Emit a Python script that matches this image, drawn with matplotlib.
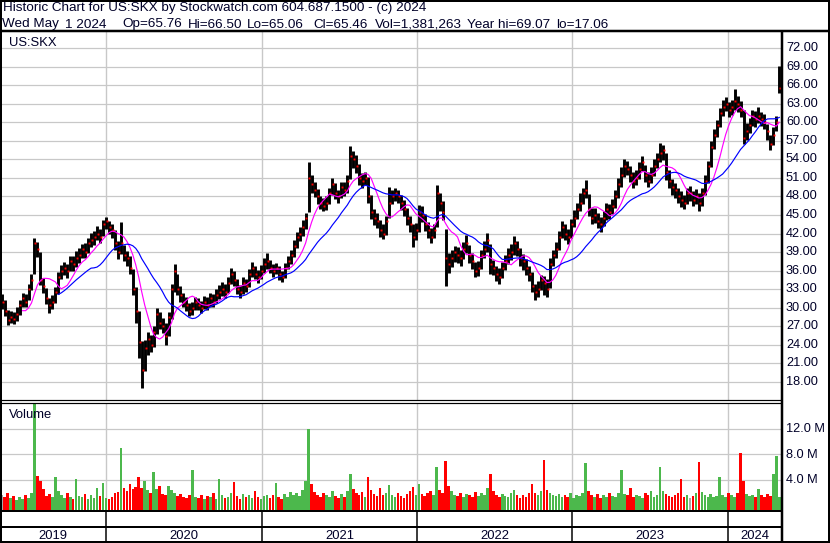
import pandas as pd
import matplotlib.pyplot as plt
import matplotlib.dates as mdates
from matplotlib.lines import Line2D

plt.rcParams['font.family'] = ['Liberation Sans', 'DejaVu Sans']

OUTPUT_FILE = "out.png"

# weekly bars, first bar 2019-05-01, last bar 2024-05-01
FIRST_WEEK = "2019-05-01"
LAST_WEEK = "2024-05-01"

close = [
    31.0, 29.5, 28.0, 28.5, 28.2, 29.0, 30.5, 31.5, 31.0, 33.0,
    34.5, 40.5, 39.5, 34.5, 33.5, 31.5, 30.5, 31.0, 32.5, 35.0,
    36.0, 36.5, 36.0, 37.5, 37.0, 38.0, 38.5, 39.5, 39.0, 40.5,
    41.0, 41.5, 42.0, 41.5, 43.5, 44.0, 43.0, 42.5, 40.5, 39.0,
    40.5, 38.5, 38.0, 36.5, 33.0, 29.5, 24.5, 20.0, 23.5, 25.0,
    24.0, 26.0, 29.0, 27.5, 27.0, 25.5, 28.5, 33.0, 36.0, 33.0,
    32.0, 31.0, 30.5, 29.5, 30.0, 31.0, 30.5, 30.0, 31.0, 30.5,
    31.5, 31.0, 32.0, 32.5, 33.0, 32.5, 34.0, 35.5, 34.5, 33.0,
    32.5, 34.0, 33.5, 35.5, 36.5, 35.5, 35.0, 36.0, 37.0, 37.5,
    36.5, 36.0, 36.5, 35.5, 35.0, 36.5, 37.5, 38.5, 40.0, 41.5,
    42.0, 43.0, 44.5, 51.0, 50.0, 49.0, 48.0, 47.0, 46.5, 47.0,
    48.5, 50.0, 48.5, 48.0, 49.5, 49.0, 50.5, 54.5, 54.0, 53.0,
    51.0, 50.5, 51.0, 48.0, 45.5, 44.5, 44.0, 42.5, 42.0, 44.0,
    47.0, 48.0, 48.5, 48.0, 47.0, 46.0, 44.5, 43.5, 41.5, 42.5,
    45.5, 45.0, 43.5, 42.5, 41.5, 42.5, 48.5, 47.0, 45.5, 38.0,
    37.0, 38.0, 39.0, 38.5, 38.0, 39.5, 40.5, 38.5, 37.5, 36.0,
    36.5, 38.5, 39.5, 41.0, 37.0, 36.5, 35.5, 35.0, 36.5, 37.5,
    38.5, 39.0, 40.5, 39.5, 38.0, 37.5, 36.5, 35.5, 33.5, 32.5,
    33.0, 34.5, 34.0, 33.0, 37.0, 38.5, 39.5, 41.5, 43.0, 42.0,
    41.5, 43.5, 44.5, 46.0, 47.0, 48.5, 49.0, 46.0, 44.5, 45.0,
    44.0, 43.5, 44.5, 46.0, 45.5, 46.5, 48.0, 50.0, 51.5, 53.0,
    52.5, 51.5, 50.5, 51.0, 52.5, 53.5, 51.5, 50.5, 51.5, 53.0,
    54.0, 55.0, 55.5, 52.0, 50.5, 49.5, 49.0, 48.0, 47.5, 47.0,
    48.5, 48.5, 47.5, 48.0, 47.0, 48.5, 50.5, 53.0, 56.0, 58.0,
    59.5, 61.5, 62.5, 63.0, 62.0, 62.5, 63.5, 63.0, 62.0, 57.5,
    58.5, 59.5, 61.0, 60.5, 61.0, 60.5, 60.0, 58.5, 56.5, 58.0,
    60.0, 65.46,
]

low = [
    29.8, 28.6, 27.2, 27.6, 27.4, 27.9, 28.8, 30.2, 30.1, 31.2,
    32.9, 35.5, 38.2, 33.6, 32.4, 30.6, 29.2, 29.8, 30.8, 32.2,
    34.6, 35.3, 34.8, 35.9, 36.0, 36.6, 37.3, 38.0, 38.1, 38.8,
    39.9, 40.2, 40.9, 40.5, 41.6, 42.8, 41.9, 41.2, 39.4, 37.9,
    38.7, 37.6, 36.8, 35.4, 32.0, 27.6, 21.8, 17.06, 19.8, 22.4,
    22.9, 23.6, 25.7, 26.6, 25.9, 23.9, 25.4, 28.2, 32.6, 32.1,
    31.0, 30.2, 29.4, 28.7, 28.8, 29.6, 29.7, 29.1, 29.8, 29.6,
    30.2, 30.1, 30.7, 31.4, 31.9, 31.6, 32.4, 33.8, 33.5, 32.2,
    31.5, 32.3, 32.6, 33.4, 35.0, 34.6, 34.0, 34.7, 35.6, 36.3,
    35.6, 35.0, 35.4, 34.5, 34.1, 34.8, 36.2, 37.1, 38.2, 39.6,
    40.8, 41.6, 42.7, 45.5, 48.6, 47.9, 46.8, 45.9, 45.6, 45.8,
    46.7, 48.2, 47.6, 46.9, 47.8, 48.0, 48.6, 50.8, 52.6, 51.8,
    49.9, 49.3, 49.8, 46.9, 44.3, 43.4, 42.9, 41.4, 41.1, 41.8,
    44.5, 46.8, 47.2, 46.9, 45.8, 44.9, 43.4, 42.2, 39.8, 41.0,
    42.3, 43.8, 42.4, 41.3, 40.4, 41.2, 43.1, 45.7, 44.2, 33.5,
    35.6, 36.6, 37.4, 37.3, 36.8, 37.9, 38.9, 37.2, 36.2, 34.9,
    35.2, 36.3, 38.1, 39.0, 35.4, 35.3, 34.3, 33.9, 34.8, 36.1,
    37.0, 37.8, 38.6, 38.3, 36.8, 36.1, 35.3, 34.3, 32.6, 31.2,
    31.8, 32.8, 32.1, 31.7, 33.2, 36.7, 38.1, 39.3, 41.2, 40.9,
    40.3, 41.2, 43.1, 44.3, 45.6, 46.8, 47.7, 44.8, 43.5, 43.7,
    42.9, 42.3, 43.2, 44.2, 44.4, 45.1, 46.2, 47.8, 49.6, 51.2,
    51.4, 50.3, 49.4, 49.9, 50.8, 52.1, 50.4, 49.5, 50.2, 51.3,
    52.6, 53.5, 53.9, 50.7, 49.3, 48.2, 47.8, 46.9, 46.3, 45.9,
    46.8, 47.3, 46.4, 46.7, 45.7, 46.4, 48.3, 50.2, 52.8, 55.7,
    57.6, 59.2, 61.0, 61.8, 60.9, 61.2, 62.0, 61.7, 60.8, 56.4,
    57.1, 58.2, 59.4, 59.3, 59.8, 59.4, 58.9, 57.2, 55.5, 56.3,
    58.5, 64.8,
]

high = [
    32.2, 31.2, 29.6, 29.4, 29.3, 30.1, 31.2, 32.4, 32.3, 33.8,
    35.5, 41.3, 40.6, 39.0, 34.8, 33.2, 31.6, 32.0, 33.3, 35.8,
    36.9, 37.4, 37.0, 38.3, 38.4, 39.1, 39.6, 40.3, 40.4, 41.3,
    42.1, 42.4, 43.2, 42.7, 44.2, 44.6, 44.1, 43.6, 42.6, 40.8,
    43.8, 40.2, 39.1, 38.3, 36.2, 33.4, 29.4, 24.6, 24.8, 26.1,
    25.6, 27.0, 29.9, 29.3, 28.3, 27.6, 29.3, 33.8, 37.0, 35.4,
    33.5, 32.4, 31.7, 30.8, 30.9, 31.8, 31.6, 31.1, 31.9, 31.7,
    32.4, 32.3, 33.1, 33.6, 34.2, 33.8, 35.0, 36.4, 35.9, 34.6,
    33.7, 34.9, 34.7, 36.3, 37.4, 36.8, 36.1, 36.9, 38.0, 38.8,
    37.8, 37.1, 37.3, 36.7, 36.0, 37.3, 38.4, 39.4, 40.9, 42.3,
    43.1, 44.2, 45.3, 53.6, 51.4, 50.3, 49.2, 48.1, 47.7, 48.1,
    49.3, 50.9, 50.2, 49.1, 50.4, 50.3, 51.4, 56.2, 55.4, 54.7,
    53.2, 51.8, 52.0, 51.1, 48.2, 46.0, 45.3, 44.2, 43.5, 44.9,
    49.5, 49.1, 49.4, 49.0, 48.3, 47.4, 46.1, 44.8, 43.6, 43.7,
    46.6, 46.5, 45.1, 43.8, 42.9, 43.6, 49.9, 48.6, 47.3, 42.8,
    38.9, 39.3, 40.0, 39.8, 39.4, 40.6, 41.8, 40.1, 38.8, 37.4,
    37.6, 39.3, 40.8, 42.1, 40.3, 37.8, 36.8, 36.4, 37.4, 38.5,
    39.6, 40.3, 41.6, 40.8, 39.6, 38.7, 37.9, 36.8, 35.7, 33.9,
    34.3, 35.3, 35.2, 34.6, 38.1, 39.4, 40.6, 42.4, 44.1, 43.5,
    42.7, 44.4, 45.8, 47.0, 48.5, 49.4, 50.6, 48.4, 46.2, 46.1,
    45.4, 44.7, 45.6, 46.9, 46.8, 47.6, 49.1, 50.9, 52.8, 54.1,
    53.8, 52.9, 51.9, 52.3, 53.6, 54.5, 53.1, 51.9, 52.7, 54.0,
    55.1, 56.6, 56.3, 55.0, 52.2, 50.8, 50.2, 49.4, 48.8, 48.3,
    49.4, 49.7, 48.9, 49.2, 48.6, 49.3, 51.4, 53.8, 56.9, 58.9,
    60.4, 62.3, 63.6, 64.1, 63.3, 63.6, 65.3, 64.2, 63.4, 61.9,
    59.8, 60.7, 61.9, 61.8, 62.5, 61.6, 61.4, 59.7, 57.9, 59.2,
    61.0, 69.07,
]

# volume in millions
volume = [
    1.6, 1.3, 1.9, 1.2, 1.5, 0.9, 1.4, 1.1, 1.7, 1.2,
    2.0, 15.9, 4.7, 3.9, 2.6, 1.5, 1.8, 1.3, 4.4, 2.2,
    1.6, 1.2, 1.9, 1.4, 1.1, 4.2, 1.5, 1.3, 1.8, 1.1,
    1.6, 1.2, 2.8, 1.5, 3.5, 1.2, 1.0, 1.4, 1.9, 2.1,
    9.0, 2.7, 2.2, 3.4, 2.6, 2.9, 4.5, 2.8, 3.8, 2.4,
    2.0, 5.2, 2.6, 3.1, 1.8, 1.6, 3.0, 2.4, 1.9, 1.5,
    1.8, 1.3, 1.2, 1.6, 5.5, 1.4, 1.2, 1.7, 1.0, 1.5,
    1.3, 1.9, 1.1, 4.2, 1.6, 1.2, 1.4, 2.0, 3.7, 1.5,
    1.1, 1.8, 1.3, 1.6, 1.2, 2.2, 1.4, 1.0, 1.5, 1.7,
    1.2, 1.6, 3.5, 1.3, 1.1, 1.8, 1.4, 2.1, 1.6, 1.9,
    1.5, 2.4, 3.8, 12.0, 3.3, 2.1, 1.7, 1.4, 2.0, 1.6,
    1.3, 2.3, 1.5, 1.2, 1.8, 1.4, 2.2, 5.0, 2.6, 1.9,
    1.6, 2.1, 1.4, 4.5, 2.5, 1.8, 1.5, 2.7, 1.6, 2.0,
    3.2, 1.7, 1.4, 1.9, 1.5, 1.2, 1.8, 2.2, 2.9, 1.6,
    3.4, 1.8, 1.5, 1.9, 2.3, 1.6, 6.0, 2.4, 2.0, 7.0,
    3.1, 2.2, 1.7, 1.5, 2.0, 1.4, 1.8, 1.6, 1.3, 2.1,
    1.5, 1.9, 1.6, 2.8, 5.0, 2.2, 1.7, 1.4, 1.8, 1.5,
    1.3, 1.9, 2.4, 1.6, 1.2, 1.7, 1.4, 2.0, 3.4, 1.9,
    1.6, 2.2, 7.2, 2.5, 2.0, 1.7, 1.5, 1.8, 1.3, 1.6,
    1.4, 1.9, 1.2, 1.7, 1.5, 2.0, 6.6, 2.3, 1.7, 1.4,
    1.8, 1.2, 1.6, 1.3, 1.9, 1.5, 1.4, 2.0, 5.5, 1.8,
    1.6, 2.7, 1.3, 1.7, 1.5, 1.2, 1.9, 1.6, 2.2, 1.4,
    1.7, 6.1, 2.3, 1.8, 1.5, 1.3, 1.6, 1.9, 4.2, 1.4,
    1.7, 1.2, 1.5, 2.0, 6.8, 2.1, 1.6, 1.4, 1.8, 1.3,
    1.5, 4.5, 1.7, 1.4, 1.9, 1.6, 1.3, 2.0, 8.3, 3.9,
    1.8, 1.5, 1.7, 1.4, 2.6, 1.6, 1.3, 1.8, 1.5, 4.9,
    7.7, 1.38,
]

PRICE_TICKS = [18, 21, 24, 27, 30, 33, 36, 39, 42, 45, 48, 51, 54, 57, 60, 63, 66, 69, 72]
VOL_TICKS = [4, 8, 12]
VOL_LABELS = ["4.0 M", "8.0 M", "12.0 M"]
YEARS = [2019, 2020, 2021, 2022, 2023, 2024]

HEADER_1 = "Historic Chart for US:SKX by Stockwatch.com 604.687.1500 - (c) 2024"
# second header line, one field per entry (placed at its own x)
HEADER_2 = ["Wed May", "1 2024", "Op=65.76", "Hi=66.50", "Lo=65.06", "Cl=65.46",
            "Vol=1,381,263", "Year hi=69.07", "lo=17.06"]
HEADER_2_X = [2, 65, 122.5, 187.5, 247, 313, 375, 466.5, 556.5]

df = pd.DataFrame({"close": close, "low": low, "high": high, "volume": volume})
df["date"] = pd.date_range(FIRST_WEEK, LAST_WEEK, freq="W-WED")
df["ma_short"] = df["close"].rolling(8).mean()
df["ma_long"] = df["close"].rolling(20).mean()
chg = df["close"].diff().fillna(0)
df["vcolor"] = ["#4cb84c" if c > 0 else ("#ff0000" if c < 0 else "#a8a8a8") for c in chg]

W, H = 830, 543
TXT = "#000028"
GRID = "#c8c8c8"

fig = plt.figure(figsize=(W / 100, H / 100), dpi=100)
fig.patch.set_facecolor("white")


def px_axes(x0, y0, x1, y1):
    return fig.add_axes([x0 / W, 1 - y1 / H, (x1 - x0) / W, (y1 - y0) / H])


def fline(xs, ys, lw=1.0, color="black"):
    fig.add_artist(Line2D([x / W for x in xs], [1 - y / H for y in ys],
                          lw=lw * 0.72, color=color, solid_capstyle="butt"))


x_left = mdates.date2num(pd.Timestamp("2019-04-27"))
x_right = mdates.date2num(pd.Timestamp("2024-05-05"))
year_starts = [pd.Timestamp(f"{y}-01-01") for y in YEARS[1:]]

# price panel
ax_p = px_axes(0, 31, 781, 400.5)
ax_p.set_xlim(x_left, x_right)
ax_p.set_ylim(15.0, 74.75)
for t in PRICE_TICKS:
    ax_p.axhline(t, color=GRID, lw=0.9, zorder=0)
for d in year_starts:
    ax_p.axvline(d, color=GRID, lw=1.0, zorder=0)
ax_p.vlines(df["date"], df["low"], df["high"], color="black", lw=2.1, zorder=2)
ax_p.plot(df["date"] + pd.Timedelta(days=2), df["close"], "s", color="red",
          ms=1.4, mew=0, zorder=3)
ax_p.plot(df["date"], df["ma_short"], color="#ff00ff", lw=0.85, zorder=4)
ax_p.plot(df["date"], df["ma_long"], color="#0000ff", lw=0.85, zorder=4)
ax_p.axis("off")

# volume panel
VMIN = -0.7
ax_v = px_axes(0, 402.5, 781, 510)
ax_v.set_xlim(x_left, x_right)
ax_v.set_ylim(VMIN, 16.15)
for t in VOL_TICKS:
    ax_v.axhline(t, color=GRID, lw=0.9, zorder=0)
for d in year_starts:
    ax_v.axvline(d, color=GRID, lw=1.0, zorder=0)
ax_v.bar(df["date"], df["volume"] - VMIN, bottom=VMIN, width=6,
         color=df["vcolor"], lw=0, zorder=2)
ax_v.axis("off")

# frame lines
fline([1, 1], [0, 543], 2)
fline([829, 829], [0, 543], 2)
fline([0, 830], [1, 1], 2)
fline([0, 830], [30.5, 30.5], 2.5)
fline([0, 830], [542, 542], 2)
fline([782, 782], [31, 543], 2.5)
fline([0, 781], [400, 400], 1.2)
fline([0, 781], [402.5, 402.5], 1.2)
fline([0, 781], [510.5, 510.5], 2)
fline([0, 781], [527, 527], 2)
for d in year_starts:
    xp = (mdates.date2num(d) - x_left) / (x_right - x_left) * 781
    fline([xp, xp], [510, 542], 1.5)

# year labels centred in each span
edges = [x_left] + [mdates.date2num(d) for d in year_starts] + [x_right]
for i, y in enumerate(YEARS):
    xc = ((edges[i] + edges[i + 1]) / 2 - x_left) / (x_right - x_left) * 781
    fig.text(xc / W, 1 - 539 / H, str(y), ha="center", va="baseline",
             fontsize=9.4, color=TXT)

# right axis labels
for t in PRICE_TICKS:
    yp = 48 + (72 - t) * 6.185
    fig.text(786 / W, 1 - yp / H, f"{t:.2f}", ha="left", va="center",
             fontsize=9.2, color=TXT)
for t, lab in zip(VOL_TICKS, VOL_LABELS):
    yp = 505.5 - t * 6.375
    fig.text(786 / W, 1 - yp / H, lab, ha="left", va="center",
             fontsize=9.2, color=TXT)

# header and panel titles
fig.text(3 / W, 1 - 11.5 / H, HEADER_1, ha="left", va="baseline", fontsize=9.7, color=TXT)
for lab, xp in zip(HEADER_2, HEADER_2_X):
    fig.text(xp / W, 1 - 27.5 / H, lab, ha="left", va="baseline", fontsize=9.7, color=TXT)
fig.text(9 / W, 1 - 45.5 / H, "US:SKX", ha="left", va="baseline", fontsize=9.4, color=TXT)
fig.text(9 / W, 1 - 417.5 / H, "Volume", ha="left", va="baseline", fontsize=9.4, color=TXT)

plt.savefig(OUTPUT_FILE, dpi=100)
print(f"saved: {OUTPUT_FILE}")
